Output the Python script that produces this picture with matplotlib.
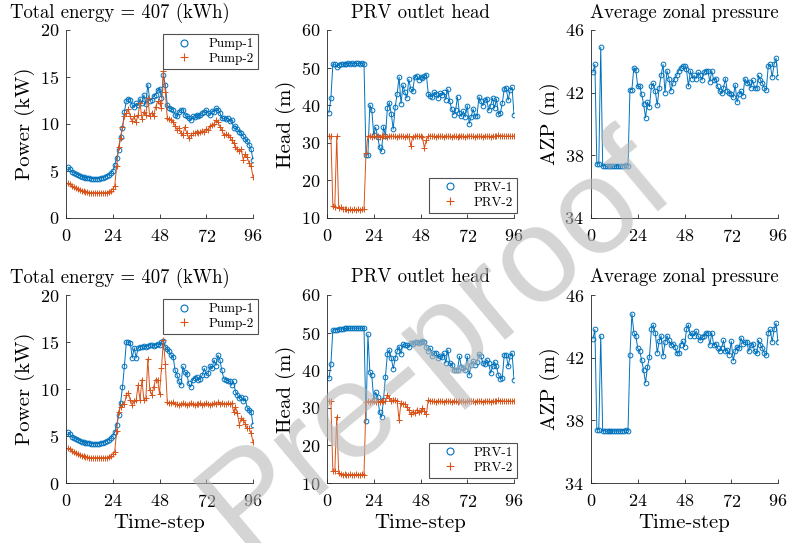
import numpy as np
import matplotlib
matplotlib.use('Agg')
import matplotlib.pyplot as plt
from matplotlib.lines import Line2D

plt.rcParams['font.family'] = ['cmr10', 'DejaVu Serif']
plt.rcParams['axes.formatter.use_mathtext'] = True
plt.rcParams['mathtext.fontset'] = 'cm'

BLUE = '#0072BD'
ORANGE = '#D95319'
AXC = '#262626'

t = np.arange(1, 97)
xticks = [0, 24, 48, 72, 96]

# ---- top row ----
pump1_a = [5.4, 5.2, 4.9, 4.8, 4.7, 4.6, 4.5, 4.4, 4.4, 4.3,
           4.3, 4.3, 4.2, 4.2, 4.2, 4.2, 4.2, 4.3, 4.3, 4.4,
           4.5, 4.6, 4.8, 5.0, 5.6, 6.4, 7.2, 8.6, 9.6, 11.3,
           12.5, 12.7, 12.6, 12.0, 11.8, 12.2, 12.0, 12.7, 12.2, 13.1,
           12.1, 14.2, 12.5, 12.6, 13.0, 13.1, 13.6, 13.7, 12.8, 15.2,
           14.1, 12.0, 11.7, 11.6, 11.5, 11.0, 10.8, 11.3, 11.5, 11.5,
           11.0, 10.8, 10.6, 10.4, 10.8, 10.7, 11.0, 10.9, 11.0, 11.2,
           11.3, 11.5, 11.2, 11.0, 11.4, 11.3, 11.7, 11.5, 11.2, 10.6,
           10.6, 10.5, 10.6, 10.3, 10.4, 9.6, 9.8, 9.5, 9.2, 9.0,
           8.7, 8.4, 8.2, 7.8, 7.3, 6.2]
pump2_a = [3.7, 3.6, 3.4, 3.3, 3.2, 3.1, 3.0, 2.9, 2.9, 2.8,
           2.8, 2.7, 2.7, 2.7, 2.7, 2.7, 2.7, 2.7, 2.7, 2.7,
           2.7, 2.8, 2.9, 3.1, 3.4, 5.5, 7.6, 8.5, 9.7, 10.8,
           11.2, 11.6, 10.8, 10.3, 10.8, 10.2, 11.0, 12.2, 10.5, 11.3,
           11.0, 12.8, 10.8, 11.2, 10.9, 11.8, 12.4, 12.2, 11.7, 15.6,
           13.4, 10.6, 10.5, 10.4, 10.2, 9.8, 9.4, 9.6, 9.0, 8.8,
           9.7, 9.0, 8.5, 8.8, 9.0, 9.0, 9.2, 9.0, 9.1, 9.3,
           9.2, 9.5, 9.4, 9.8, 9.9, 10.0, 10.4, 10.2, 9.7, 9.4,
           8.8, 8.9, 8.8, 8.6, 8.3, 8.0, 7.6, 7.3, 7.1, 7.3,
           6.2, 6.8, 6.5, 5.8, 5.5, 4.4]
prv1_a = [38.0, 41.8, 50.9, 50.9, 50.1, 50.8, 51.0, 50.9, 51.0, 51.0,
          51.1, 51.0, 51.1, 51.0, 51.1, 51.1, 51.0, 51.1, 51.0, 26.8,
          26.8, 40.1, 38.7, 32.1, 34.1, 31.6, 28.8, 27.7, 34.3, 31.8,
          39.2, 40.7, 37.7, 33.6, 39.5, 43.0, 47.5, 40.4, 45.4, 43.4,
          41.9, 46.9, 44.3, 43.9, 47.5, 47.8, 46.8, 47.5, 47.2, 47.7,
          48.1, 43.0, 42.5, 42.2, 43.4, 43.0, 41.9, 43.2, 42.8, 43.4,
          41.5, 44.3, 41.0, 39.0, 37.5, 38.6, 42.2, 37.9, 37.0, 38.4,
          36.9, 39.9, 35.1, 36.9, 39.0, 37.0, 37.2, 42.2, 41.0, 39.9,
          41.3, 41.6, 38.6, 39.9, 41.9, 39.2, 41.6, 37.7, 37.9, 40.6,
          44.3, 44.6, 41.3, 44.1, 44.8, 37.5]
prv2_a = [31.8, 31.8, 13.2, 13.0, 31.8, 12.6, 12.8, 12.4, 12.3, 12.3,
          12.2, 12.3, 12.2, 12.3, 12.2, 12.3, 12.2, 12.3, 12.3, 27.3,
          31.8, 31.9, 31.6, 31.8, 31.7, 31.9, 31.6, 31.8, 31.7, 31.9,
          31.6, 31.8, 31.9, 31.7, 31.8, 31.6, 31.9, 31.7, 31.8, 31.6,
          31.9, 31.7, 29.2, 31.6, 31.8, 31.9, 31.7, 31.8, 31.6, 28.6,
          30.8, 31.8, 31.9, 31.7, 31.8, 31.6, 31.9, 31.7, 31.8, 31.6,
          31.9, 31.7, 31.8, 31.6, 31.9, 31.7, 31.6, 31.8, 31.9, 31.7,
          31.6, 31.8, 31.9, 31.7, 31.8, 31.6, 31.9, 31.7, 31.8, 31.6,
          31.9, 31.7, 31.8, 31.6, 31.9, 31.7, 31.8, 32.0, 31.7, 31.9,
          31.8, 31.7, 31.9, 31.8, 31.7, 31.9]
azp_a = [43.3, 43.8, 37.45, 37.45, 44.9, 37.3, 37.35, 37.3, 37.35, 37.3,
         37.3, 37.35, 37.3, 37.35, 37.3, 37.35, 37.35, 37.4, 37.35, 42.2,
         42.2, 43.6, 43.45, 42.4, 42.4, 41.9, 41.3, 40.4, 41.4, 41.1,
         42.4, 42.6, 42.1, 41.2, 42.3, 43.1, 43.8, 42.0, 43.4, 42.9,
         42.1, 42.6, 42.9, 43.1, 43.4, 43.6, 43.7, 43.7, 43.5, 42.4,
         43.4, 42.9, 43.1, 42.9, 43.3, 43.1, 42.8, 43.3, 43.4, 43.4,
         42.7, 43.4, 42.8, 42.9, 42.4, 42.1, 42.0, 42.3, 42.9, 42.1,
         42.0, 41.9, 41.7, 42.5, 41.4, 41.9, 42.1, 41.8, 42.9, 42.6,
         42.7, 42.3, 42.8, 42.3, 42.3, 43.1, 42.8, 42.6, 42.3, 42.2,
         43.7, 43.8, 43.0, 43.8, 44.2, 43.0]

# ---- bottom row ----
pump1_b = [5.4, 5.2, 4.9, 4.8, 4.7, 4.6, 4.5, 4.4, 4.4, 4.3,
           4.3, 4.3, 4.2, 4.2, 4.2, 4.2, 4.2, 4.3, 4.3, 4.4,
           4.5, 4.6, 4.8, 5.0, 5.4, 6.2, 7.2, 8.5, 10.2, 12.5,
           15.0, 15.0, 14.9, 13.3, 14.4, 13.3, 14.4, 14.5, 14.5, 14.6,
           14.5, 14.6, 14.7, 14.7, 14.6, 14.7, 14.8, 14.7, 15.0, 15.1,
           14.5, 14.3, 14.0, 13.6, 13.4, 12.0, 11.5, 10.8, 10.4, 12.4,
           11.8, 11.6, 10.6, 10.2, 11.0, 11.2, 11.3, 11.0, 11.1, 11.5,
           12.2, 11.5, 11.7, 12.5, 12.2, 13.1, 12.5, 13.6, 13.1, 12.0,
           11.1, 11.0, 10.9, 10.8, 10.4, 10.8, 9.7, 9.4, 9.0, 9.2,
           8.7, 9.0, 8.0, 7.8, 7.6, 6.2]
pump2_b = [3.7, 3.6, 3.4, 3.3, 3.2, 3.1, 3.0, 2.9, 2.9, 2.8,
           2.8, 2.7, 2.7, 2.7, 2.7, 2.7, 2.7, 2.7, 2.7, 2.7,
           2.7, 2.8, 2.9, 3.1, 3.3, 5.5, 7.6, 8.1, 8.4, 8.4,
           9.4, 9.6, 8.8, 8.3, 8.7, 8.8, 10.4, 8.8, 11.0, 8.8,
           9.0, 13.2, 9.9, 9.4, 10.2, 11.0, 11.0, 9.5, 12.2, 15.2,
           12.7, 8.6, 8.5, 8.5, 8.6, 8.4, 8.4, 8.3, 8.4, 8.5,
           8.4, 8.3, 8.4, 8.5, 8.4, 8.3, 8.4, 8.4, 8.5, 8.3,
           8.4, 8.5, 8.4, 8.3, 8.4, 8.5, 8.4, 8.6, 8.4, 8.5,
           8.4, 8.4, 8.5, 8.4, 8.5, 7.6, 8.1, 7.4, 6.2, 6.9,
           6.7, 6.3, 5.8, 5.8, 5.3, 4.4]
prv1_b = [37.8, 41.6, 50.7, 50.8, 50.8, 50.9, 51.0, 51.0, 51.1, 51.1,
          51.1, 51.2, 51.2, 51.2, 51.2, 51.2, 51.2, 51.2, 51.2, 26.5,
          49.5, 39.6, 38.6, 32.1, 34.1, 33.0, 28.8, 27.5, 32.1, 38.3,
          44.3, 45.4, 43.2, 40.4, 43.2, 45.0, 46.3, 44.3, 46.9, 46.7,
          46.6, 46.3, 47.2, 46.9, 47.5, 47.5, 47.2, 47.5, 47.8, 47.5,
          46.3, 45.0, 45.9, 43.7, 44.6, 44.6, 43.2, 43.9, 43.4, 44.6,
          41.9, 45.4, 41.9, 41.5, 40.1, 40.1, 40.1, 43.7, 40.8, 40.6,
          40.1, 43.7, 38.7, 41.5, 42.4, 41.5, 42.2, 44.3, 43.7, 41.9,
          41.6, 42.8, 41.9, 39.2, 41.0, 42.2, 41.0, 38.7, 37.7, 38.0,
          44.1, 44.1, 41.0, 43.7, 44.6, 37.5]
prv2_b = [31.8, 31.8, 13.1, 13.1, 27.6, 12.6, 12.4, 12.2, 12.3, 12.2,
          12.2, 12.3, 12.2, 12.2, 12.3, 12.2, 12.2, 12.3, 12.2, 31.6,
          31.8, 31.6, 31.8, 31.7, 31.6, 31.8, 31.6, 31.9, 31.8, 31.7,
          33.5, 32.6, 31.8, 32.1, 32.1, 31.8, 26.8, 31.4, 31.0, 31.0,
          30.1, 29.4, 28.3, 29.0, 28.6, 29.5, 28.8, 29.2, 30.0, 29.2,
          28.3, 32.1, 31.9, 31.7, 31.8, 31.6, 31.9, 31.7, 31.8, 31.6,
          31.9, 31.7, 31.8, 31.6, 31.9, 31.7, 31.6, 31.8, 31.9, 31.7,
          31.6, 31.8, 31.9, 31.7, 31.8, 31.6, 31.9, 31.7, 31.8, 31.6,
          31.9, 31.7, 31.8, 31.6, 31.9, 31.7, 31.8, 32.0, 31.7, 31.9,
          31.8, 31.7, 31.9, 31.8, 31.7, 31.9]
azp_b = [43.2, 43.8, 37.4, 37.4, 43.4, 37.3, 37.35, 37.3, 37.35, 37.3,
         37.3, 37.35, 37.3, 37.35, 37.3, 37.35, 37.35, 37.4, 37.35, 42.2,
         44.8, 43.6, 43.4, 42.6, 42.4, 41.85, 41.2, 40.4, 41.4, 42.05,
         43.8, 44.1, 43.6, 42.3, 43.05, 43.4, 42.1, 43.0, 43.4, 43.1,
         42.8, 42.9, 42.7, 42.3, 42.3, 42.8, 43.05, 42.7, 43.8, 44.1,
         43.4, 43.6, 43.4, 43.7, 43.4, 43.1, 43.3, 43.4, 43.6, 43.6,
         42.8, 43.6, 42.8, 42.9, 42.6, 42.4, 42.6, 43.1, 42.4, 42.5,
         42.2, 43.05, 41.8, 42.4, 42.7, 42.6, 43.27, 42.9, 43.0, 43.0,
         42.4, 42.8, 42.9, 42.4, 42.3, 43.1, 42.8, 42.6, 42.3, 42.2,
         43.6, 43.8, 43.0, 43.8, 44.2, 43.0]

W, H = 787, 543
fig = plt.figure(figsize=(W / 100, H / 100), dpi=100)

lefts = [66, 327, 591]
axw = 187
tops = [30, 295]
axh = 188


def make_ax(col, row):
    ax = fig.add_axes([lefts[col] / W, 1 - (tops[row] + axh) / H, axw / W, axh / H])
    for s in ['top', 'right']:
        ax.spines[s].set_visible(False)
    for s in ['left', 'bottom']:
        ax.spines[s].set_color(AXC)
        ax.spines[s].set_linewidth(0.6)
    ax.tick_params(direction='in', length=3, width=0.6, colors=AXC,
                   labelsize=13, labelcolor='black')
    ax.tick_params(axis='x', pad=7)
    ax.tick_params(axis='y', pad=5)
    ax.set_xlim(0, 96)
    ax.set_xticks(xticks)
    return ax


def line(ax, y, c, m):
    if m == 'o':
        ax.plot(t, y, '-', color=c, lw=0.7, marker='o', ms=3.4, mfc='none', mew=0.7)
    else:
        ax.plot(t, y, '-', color=c, lw=0.7, marker='+', ms=4, mew=0.7)


def legend(ax, names, loc, anchor):
    h = [Line2D([], [], ls='none', marker='o', color=BLUE, ms=5, mfc='none', mew=0.8),
         Line2D([], [], ls='none', marker='+', color=ORANGE, ms=6, mew=0.8)]
    lg = ax.legend(h, names, loc=loc, bbox_to_anchor=anchor, fontsize=9.5,
                   frameon=True, fancybox=False, edgecolor=AXC, borderpad=0.3,
                   handlelength=2.6, handletextpad=0.55, labelspacing=0.2,
                   borderaxespad=0.0)
    lg.get_frame().set_linewidth(0.8)


data = [(pump1_a, pump2_a, prv1_a, prv2_a, azp_a),
        (pump1_b, pump2_b, prv1_b, prv2_b, azp_b)]

for row in range(2):
    p1, p2, v1, v2, az = data[row]

    ax = make_ax(0, row)
    line(ax, p1, BLUE, 'o')
    line(ax, p2, ORANGE, '+')
    ax.set_ylim(0, 20)
    ax.set_yticks([0, 5, 10, 15, 20])
    ax.set_ylabel('Power (kW)', fontsize=15, labelpad=3)
    ax.set_title('Total energy = 407 (kWh)', fontsize=13.5, pad=9, x=0.29)
    legend(ax, ['Pump-1', 'Pump-2'], 'upper right', (1.027, 0.979))

    ax = make_ax(1, row)
    line(ax, v1, BLUE, 'o')
    line(ax, v2, ORANGE, '+')
    ax.set_ylim(10, 60)
    ax.set_yticks([10, 20, 30, 40, 50, 60])
    ax.set_ylabel('Head (m)', fontsize=15, labelpad=3)
    ax.set_title('PRV outlet head', fontsize=13.5, pad=9)
    legend(ax, ['PRV-1', 'PRV-2'], 'lower right', (1.018, 0.028))

    ax = make_ax(2, row)
    line(ax, az, BLUE, 'o')
    ax.set_ylim(34, 46)
    ax.set_yticks([34, 38, 42, 46])
    ax.set_ylabel('AZP (m)', fontsize=15, labelpad=3)
    ax.set_title('Average zonal pressure', fontsize=13.5, pad=9)

    if row == 1:
        for col in range(3):
            fig.axes[-3 + col].set_xlabel('Time-step', fontsize=15, labelpad=3)

fig.text(0.555, 0.37, 'Pre-proof', fontsize=98, color='0.72', alpha=0.6,
         rotation=40, ha='center', va='center', family='Liberation Sans', zorder=100)

fig.savefig('out.png', dpi=100)
